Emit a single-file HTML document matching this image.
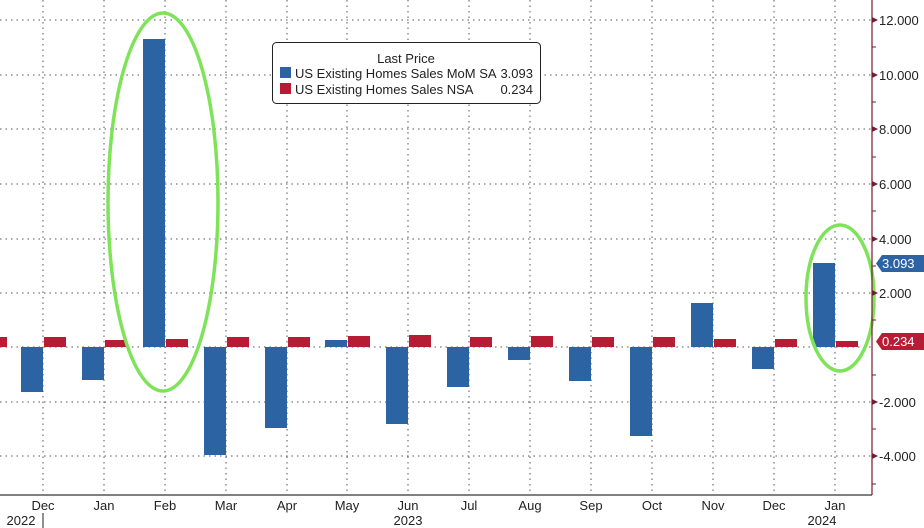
<!DOCTYPE html>
<html><head><style>body{margin:0;background:#fff}svg{display:block;font-family:"Liberation Sans",sans-serif}</style></head><body>
<svg width="924" height="528" viewBox="0 0 924 528">
<rect width="924" height="528" fill="#fff"/>
<g stroke="#555" stroke-width="1" stroke-dasharray="1.5,4">
<line x1="0" x2="872" y1="20" y2="20"/><line x1="0" x2="872" y1="75" y2="75"/><line x1="0" x2="872" y1="129" y2="129"/><line x1="0" x2="872" y1="184" y2="184"/><line x1="0" x2="872" y1="239" y2="239"/><line x1="0" x2="872" y1="293" y2="293"/><line x1="0" x2="872" y1="347" y2="347"/><line x1="0" x2="872" y1="402" y2="402"/><line x1="0" x2="872" y1="456" y2="456"/>
<line x1="43" x2="43" y1="0" y2="495"/><line x1="104" x2="104" y1="0" y2="495"/><line x1="165" x2="165" y1="0" y2="495"/><line x1="226" x2="226" y1="0" y2="495"/><line x1="287" x2="287" y1="0" y2="495"/><line x1="347" x2="347" y1="0" y2="495"/><line x1="408" x2="408" y1="0" y2="495"/><line x1="469" x2="469" y1="0" y2="495"/><line x1="530" x2="530" y1="0" y2="495"/><line x1="591" x2="591" y1="0" y2="495"/><line x1="652" x2="652" y1="0" y2="495"/><line x1="713" x2="713" y1="0" y2="495"/><line x1="774" x2="774" y1="0" y2="495"/><line x1="835" x2="835" y1="0" y2="495"/>
</g>
<g fill="#2b63a3">
<rect x="21" y="347" width="22" height="45"/><rect x="82" y="347" width="22" height="33"/><rect x="143" y="39" width="22" height="308"/><rect x="204" y="347" width="22" height="108"/><rect x="265" y="347" width="22" height="81"/><rect x="325" y="340" width="22" height="7"/><rect x="386" y="347" width="22" height="77"/><rect x="447" y="347" width="22" height="40"/><rect x="508" y="347" width="22" height="13"/><rect x="569" y="347" width="22" height="34"/><rect x="630" y="347" width="22" height="89"/><rect x="691" y="303" width="22" height="44"/><rect x="752" y="347" width="22" height="22"/><rect x="813" y="263" width="22" height="84"/>
</g>
<g fill="#b71c35">
<rect x="0" y="337" width="7" height="10"/><rect x="44" y="337" width="22" height="10"/><rect x="105" y="340" width="22" height="7"/><rect x="166" y="339" width="22" height="8"/><rect x="227" y="337" width="22" height="10"/><rect x="288" y="337" width="22" height="10"/><rect x="348" y="336" width="22" height="11"/><rect x="409" y="335" width="22" height="12"/><rect x="470" y="337" width="22" height="10"/><rect x="531" y="336" width="22" height="11"/><rect x="592" y="337" width="22" height="10"/><rect x="653" y="337" width="22" height="10"/><rect x="714" y="339" width="22" height="8"/><rect x="775" y="339" width="22" height="8"/><rect x="836" y="341" width="22" height="6"/>
</g>
<g fill="none" stroke="#7fe35a" stroke-width="3.5">
<ellipse cx="163" cy="202" rx="55" ry="189"/><ellipse cx="840" cy="298" rx="34" ry="73"/>
</g>
<line x1="0" x2="872" y1="495" y2="495" stroke="#000"/>
<line x1="872" x2="872" y1="0" y2="495" stroke="#7a1a30" stroke-width="1.2"/>
<g stroke="#7a1a30"><line x1="872" x2="876" y1="47" y2="47"/><line x1="872" x2="876" y1="102" y2="102"/><line x1="872" x2="876" y1="157" y2="157"/><line x1="872" x2="876" y1="211" y2="211"/><line x1="872" x2="876" y1="266" y2="266"/><line x1="872" x2="876" y1="320" y2="320"/><line x1="872" x2="876" y1="375" y2="375"/><line x1="872" x2="876" y1="429" y2="429"/><line x1="872" x2="876" y1="484" y2="484"/></g>
<g fill="#7a1a30"><path d="M872,17 l6,3 l-6,3z"/><path d="M872,72 l6,3 l-6,3z"/><path d="M872,126 l6,3 l-6,3z"/><path d="M872,181 l6,3 l-6,3z"/><path d="M872,236 l6,3 l-6,3z"/><path d="M872,290 l6,3 l-6,3z"/><path d="M872,399 l6,3 l-6,3z"/><path d="M872,453 l6,3 l-6,3z"/></g>
<g font-size="13" fill="#222">
<text x="879" y="25">12.000</text><text x="879" y="80">10.000</text><text x="879" y="134">8.000</text><text x="879" y="189">6.000</text><text x="879" y="244">4.000</text><text x="879" y="298">2.000</text><text x="879" y="407">-2.000</text><text x="879" y="461">-4.000</text>
</g>
<path d="M882,255 L924,255 L924,272 L882,272 L876,263.5 Z" fill="#2b63a3"/>
<text x="882" y="268" font-size="13" fill="#fff">3.093</text>
<path d="M882,333 L924,333 L924,350 L882,350 L876,341.5 Z" fill="#b71c35"/>
<text x="882" y="346" font-size="13" fill="#fff">0.234</text>
<g font-size="13" fill="#222" text-anchor="middle">
<text x="43" y="510">Dec</text><text x="104" y="510">Jan</text><text x="165" y="510">Feb</text><text x="226" y="510">Mar</text><text x="287" y="510">Apr</text><text x="347" y="510">May</text><text x="408" y="510">Jun</text><text x="469" y="510">Jul</text><text x="530" y="510">Aug</text><text x="591" y="510">Sep</text><text x="652" y="510">Oct</text><text x="713" y="510">Nov</text><text x="774" y="510">Dec</text><text x="835" y="510">Jan</text>
<text x="21" y="525">2022</text><text x="408" y="525">2023</text><text x="822" y="525">2024</text>
</g>
<line x1="43" x2="43" y1="513" y2="528" stroke="#222"/>
<rect x="272.5" y="42.5" width="268" height="61" rx="4" fill="#fff" stroke="#222"/>
<text x="406" y="63" font-size="13" fill="#222" text-anchor="middle">Last Price</text>
<rect x="280" y="67" width="11" height="11" fill="#2b63a3"/>
<rect x="280" y="83" width="11" height="11" fill="#b71c35"/>
<g font-size="13" fill="#222"><text x="295" y="78">US Existing Homes Sales MoM SA</text><text x="533" y="78" text-anchor="end">3.093</text><text x="295" y="94">US Existing Homes Sales NSA</text><text x="533" y="94" text-anchor="end">0.234</text></g>
</svg>
</body></html>
